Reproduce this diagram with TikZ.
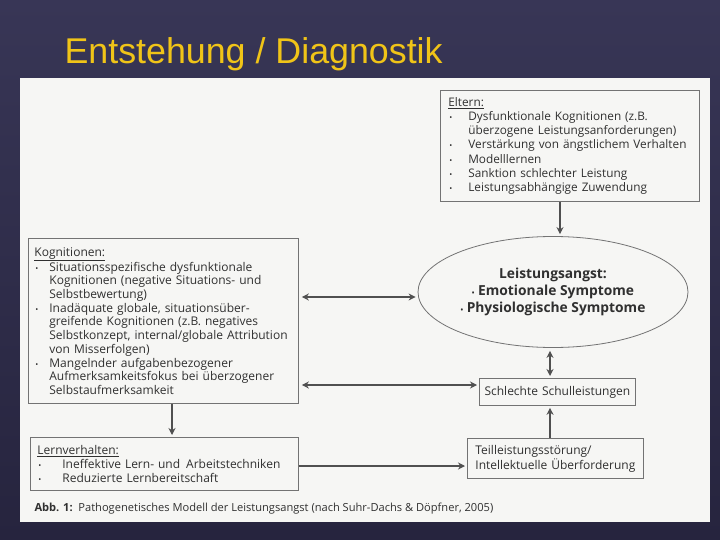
\documentclass[tikz,border=0pt]{standalone}
\usepackage{fontspec}
\setmainfont{Liberation Sans}
\newfontfamily\buchfont{Open Sans}
\usetikzlibrary{shapes.geometric,arrows.meta}
\definecolor{nachtblau}{RGB}{38,36,62}
\definecolor{nachtblauhell}{RGB}{56,54,86}
\definecolor{titelgelb}{RGB}{240,196,24}
\definecolor{papier}{RGB}{246,246,244}
\definecolor{rahmen}{RGB}{115,115,115}
\definecolor{tinte}{RGB}{48,48,48}
\definecolor{pfeilgrau}{RGB}{80,80,80}
\newcommand{\bul}[1][15pt]{\makebox[#1][l]{\hspace{1pt}\footnotesize\textbullet}}
\newcommand{\ein}[1][15pt]{\hspace*{#1}}
\tikzset{
  kasten/.style={draw=rahmen, line width=0.8pt, anchor=north west, inner xsep=6pt, inner ysep=3pt,
    align=left, text=tinte, font=\buchfont\fontsize{12}{13.8}\selectfont},
  pfeilweg/.style={draw=pfeilgrau, line width=2.5pt, -{Stealth[length=7pt,width=7pt]}, shorten >=2pt},
  doppelweg/.style={pfeilweg, {Stealth[length=7pt,width=7pt]}-{Stealth[length=7pt,width=7pt]}, shorten <=3pt}
}
\begin{document}
\begin{tikzpicture}[x=1pt,y=-1pt]
  \shade[top color=nachtblauhell, bottom color=nachtblau] (0,0) rectangle (720,540);
  \useasboundingbox (0,0) rectangle (720,540);
  \fill[papier] (20,78) rectangle (710,522);
  \node[anchor=base west, text=titelgelb, font=\fontsize{35.8}{40}\selectfont] (titel) at (61,64) {Entstehung / Diagnostik};

  % Kaesten
  \node[kasten, inner xsep=8pt, text width=243pt, minimum height=111pt, font=\buchfont\fontsize{11.8}{14.2}\selectfont]
    (eltern) at (440,90) {\hyphenpenalty=10000 \underline{Eltern:}\\
    \bul[16pt] Dysfunktionale Kognitionen (z.B.\\ \ein[16pt] überzogene Leistungsanforderungen)\\
    \bul[16pt] Verstärkung von ängstlichem Verhalten\\ \bul[16pt] Modelllernen\\
    \bul[16pt] Sanktion schlechter Leistung\\ \bul[16pt] Leistungsabhängige Zuwendung};
  \node[kasten, text width=258pt, minimum height=165pt, font=\buchfont\fontsize{12}{13.7}\selectfont]
    (kog) at (28,238) {\underline{Kognitionen:}\\
    \bul Situationsspezifische dysfunktionale\\ \ein Kognitionen (negative Situations- und\\ \ein Selbstbewertung)\\
    \bul Inadäquate globale, situationsüber-\\ \ein greifende Kognitionen (z.B. negatives\\
    \ein Selbstkonzept, internal/globale Attribution\\ \ein von Misserfolgen)\\
    \bul Mangelnder aufgabenbezogener\\ \ein Aufmerksamkeitsfokus bei überzogener\\ \ein Selbstaufmerksamkeit};
  \node[kasten, inner xsep=7pt, text width=254pt, minimum height=53pt, font=\buchfont\fontsize{12}{14}\selectfont]
    (lern) at (30,437) {\underline{Lernverhalten:}\\
    \bul[21pt] Ineffektive Lern- und\, Arbeitstechniken\\ \bul[21pt] Reduzierte Lernbereitschaft};
  \node[kasten, inner xsep=4pt, text width=148pt, minimum height=27pt, align=center] (schule) at (479,378) {Schlechte Schulleistungen};
  \node[kasten, inner xsep=8pt, text width=160pt, minimum height=40pt, font=\buchfont\fontsize{12}{15}\selectfont]
    (teil) at (467,438) {Teilleistungsstörung/\\ Intellektuelle Überforderung};
  \node[ellipse, draw=rahmen, line width=0.8pt, minimum width=270pt, minimum height=111pt, inner sep=0pt,
    align=center, text=tinte, font=\buchfont\bfseries\fontsize{13.8}{17}\selectfont] (angst) at (553,292)
    {Leistungsangst:\\ {\scriptsize\textbullet} Emotionale Symptome\\ {\scriptsize\textbullet} Physiologische Symptome};

  \node[anchor=base west, text=tinte, font=\buchfont\fontsize{11.1}{13}\selectfont] (abb) at (31,511)
    {\textbf{Abb. 1:}\, Pathogenetisches Modell der Leistungsangst (nach Suhr-Dachs \& Döpfner, 2005)};

  % Pfeile
  \coordinate (v1) at (560,0); \coordinate (v2) at (550,0); \coordinate (v3) at (172,0);
  \coordinate (h1) at (0,297); \coordinate (h2) at (0,385); \coordinate (h3) at (0,466);
  \draw[pfeilweg] (eltern.south -| v1) -- (angst.north -| v1);
  \draw[doppelweg] (kog.east |- h1) -- (angst.west |- h1);
  \draw[doppelweg] (angst.south -| v2) -- (schule.north -| v2);
  \draw[doppelweg] (kog.east |- h2) -- (schule.west |- h2);
  \draw[pfeilweg] (kog.south -| v3) -- (lern.north -| v3);
  \draw[pfeilweg] (lern.east |- h3) -- (teil.west |- h3);
  \draw[pfeilweg] (teil.north -| v2) -- (schule.south -| v2);
\end{tikzpicture}
\end{document}
